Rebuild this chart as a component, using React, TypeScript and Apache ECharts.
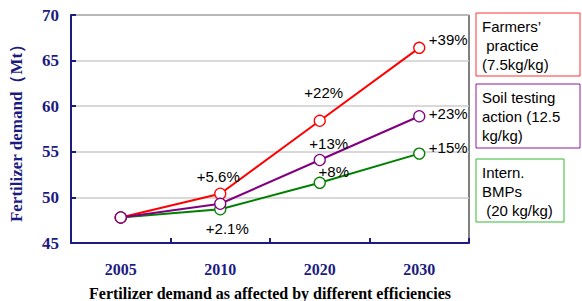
import React, { useEffect, useRef } from "react";
import * as echarts from "echarts";

const years = ["2005", "2010", "2020", "2030"];
const farmers = [47.8, 50.4, 58.4, 66.4];
const soilTesting = [47.8, 49.3, 54.1, 58.9];
const bmps = [47.8, 48.7, 51.6, 54.8];
const farmersLabels = ["", "+5.6%", "+22%", "+39%"];
const soilLabels = ["", "", "+13%", "+23%"];
const bmpLabels = ["", "+2.1%", "+8%", "+15%"];
const yTicks = { min: 45, max: 70, interval: 5 };

const farmersOffsets = [[0, 0], [-2, -17], [4, -28], [29, -8]];
const soilOffsets = [[0, 0], [0, 0], [9, -17], [29, -3]];
const bmpOffsets = [[0, 0], [7, 19], [14, -11], [29, -6]];

const NAVY = "#1c1c80";
const SERIF = "'Times New Roman', 'Liberation Serif', serif";
const SANS = "Arial, 'Liberation Sans', sans-serif";

function buildData(values: number[], labels: string[], offsets: number[][]) {
  return values.map((v, i) => ({
    value: v,
    label: labels[i]
      ? {
          show: true,
          position: "inside",
          offset: offsets[i],
          formatter: labels[i],
          color: "#000",
          fontSize: 15,
          fontFamily: SANS,
        }
      : { show: false },
  }));
}

function makeSeries(name: string, color: string, values: number[], labels: string[], offsets: number[][], z: number) {
  return {
    name,
    type: "line",
    data: buildData(values, labels, offsets),
    symbol: "circle",
    symbolSize: 11,
    z,
    lineStyle: { color, width: 2 },
    itemStyle: { color: "#fff", borderColor: color, borderWidth: 1.3 },
    emphasis: { disabled: true },
  };
}

export default function App() {
  const ref = useRef<HTMLDivElement>(null);
  useEffect(() => {
    if (!ref.current) return;
    const chart = echarts.init(ref.current, undefined, { renderer: "svg" });
    const legendText = (text: string, x: number, y: number) => ({
      type: "text",
      x,
      y,
      style: { text, fill: "#000", font: `15px ${SANS}`, lineHeight: 19 },
    });
    chart.setOption({
      animation: false,
      backgroundColor: "#fff",
      grid: {
        left: 71,
        top: 15,
        right: 113,
        bottom: 58,
        outerBoundsMode: "none",
        containLabel: false,
        show: true,
        borderColor: "#000",
        borderWidth: 1,
        backgroundColor: "transparent",
      },
      xAxis: {
        type: "category",
        data: years,
        boundaryGap: true,
        axisLine: { lineStyle: { color: NAVY, width: 2 } },
        axisTick: { show: true, length: 5, inside: true, lineStyle: { color: NAVY, width: 2 } },
        axisLabel: {
          color: NAVY,
          fontWeight: "bold",
          fontSize: 16,
          fontFamily: SERIF,
          margin: 18,
        },
        name: "Fertilizer demand as affected by different efficiencies",
        nameLocation: "middle",
        nameGap: 42,
        nameTextStyle: { color: "#000", fontWeight: "bold", fontSize: 16, fontFamily: SERIF },
      },
      yAxis: {
        type: "value",
        min: yTicks.min,
        max: yTicks.max,
        interval: yTicks.interval,
        axisLine: { show: true, lineStyle: { color: NAVY, width: 2 } },
        axisTick: { show: true, inside: true, length: 5, lineStyle: { color: NAVY, width: 2 } },
        splitLine: { show: true, lineStyle: { color: "#cccccc", width: 1.5 } },
        axisLabel: {
          color: NAVY,
          fontWeight: "bold",
          fontSize: 17,
          fontFamily: SERIF,
          margin: 12,
        },
        name: "Fertilizer demand（Mt）",
        nameLocation: "middle",
        nameRotate: 90,
        nameGap: 46,
        nameTextStyle: { color: NAVY, fontWeight: "bold", fontSize: 17, fontFamily: SERIF },
      },
      series: [
        makeSeries("Intern. BMPs", "#008000", bmps, bmpLabels, bmpOffsets, 2),
        makeSeries("Farmers' practice", "#ff0000", farmers, farmersLabels, farmersOffsets, 3),
        makeSeries("Soil testing action", "#800080", soilTesting, soilLabels, soilOffsets, 4),
      ],
      graphic: [
        { type: "rect", shape: { x: 476, y: 13, width: 104, height: 63 }, style: { fill: "#fff", stroke: "#ff3333", lineWidth: 1 } },
        legendText("Farmers’\n practice\n(7.5kg/kg)", 482, 17),
        { type: "rect", shape: { x: 476, y: 84, width: 104, height: 64 }, style: { fill: "#fff", stroke: "#8b1a9b", lineWidth: 1 } },
        legendText("Soil testing\naction (12.5\nkg/kg)", 482, 88),
        { type: "rect", shape: { x: 476, y: 159, width: 88, height: 63 }, style: { fill: "#fff", stroke: "#33bb33", lineWidth: 1 } },
        legendText("Intern.\nBMPs\n (20 kg/kg)", 482, 163),
      ],
    });
    return () => chart.dispose();
  }, []);
  return <div ref={ref} style={{ width: 582, height: 301, position: "absolute", left: 0, top: 0 }} />;
}
